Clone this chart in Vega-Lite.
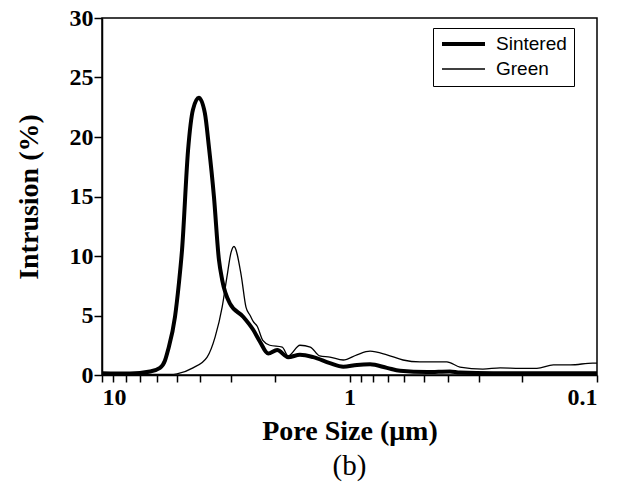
{
  "$schema": "https://vega.github.io/schema/vega-lite/v6.json",
  "width": 495,
  "height": 357,
  "autosize": "none",
  "padding": {"left": 102, "top": 18, "right": 24, "bottom": 118},
  "background": "white",
  "config": {
    "view": {"stroke": "black", "strokeWidth": 1.5},
    "axis": {"grid": false, "domainColor": "black", "domainWidth": 1.5, "tickColor": "black", "tickWidth": 1.5, "labelColor": "black", "titleColor": "black", "labelFont": "Liberation Serif", "labelFontWeight": "bold", "labelFontSize": 24, "titleFont": "Liberation Serif", "titleFontWeight": "bold", "titleFontSize": 28}
  },
  "title": {"text": "(b)", "orient": "bottom", "font": "Liberation Serif", "fontWeight": "normal", "fontSize": 29, "color": "black", "offset": 7, "anchor": "middle"},
  "data": {
    "values": [
      {"series": "Sintered", "size": 10, "intrusion": 0.15},
      {"series": "Sintered", "size": 7.71, "intrusion": 0.12},
      {"series": "Sintered", "size": 6.4, "intrusion": 0.3},
      {"series": "Sintered", "size": 5.83, "intrusion": 0.6},
      {"series": "Sintered", "size": 5.57, "intrusion": 1.2},
      {"series": "Sintered", "size": 5.41, "intrusion": 2.1},
      {"series": "Sintered", "size": 5.07, "intrusion": 4.9},
      {"series": "Sintered", "size": 4.89, "intrusion": 7.7},
      {"series": "Sintered", "size": 4.75, "intrusion": 10.5},
      {"series": "Sintered", "size": 4.49, "intrusion": 18.9},
      {"series": "Sintered", "size": 4.29, "intrusion": 22.3},
      {"series": "Sintered", "size": 4.06, "intrusion": 23.3},
      {"series": "Sintered", "size": 3.84, "intrusion": 22.0},
      {"series": "Sintered", "size": 3.70, "intrusion": 19.2},
      {"series": "Sintered", "size": 3.53, "intrusion": 15.0},
      {"series": "Sintered", "size": 3.37, "intrusion": 9.7},
      {"series": "Sintered", "size": 3.27, "intrusion": 8.0},
      {"series": "Sintered", "size": 3.04, "intrusion": 6.0},
      {"series": "Sintered", "size": 2.69, "intrusion": 4.9},
      {"series": "Sintered", "size": 2.45, "intrusion": 3.8},
      {"series": "Sintered", "size": 2.30, "intrusion": 2.8},
      {"series": "Sintered", "size": 2.13, "intrusion": 1.8},
      {"series": "Sintered", "size": 1.96, "intrusion": 2.1},
      {"series": "Sintered", "size": 1.77, "intrusion": 1.5},
      {"series": "Sintered", "size": 1.585, "intrusion": 1.7},
      {"series": "Sintered", "size": 1.40, "intrusion": 1.5},
      {"series": "Sintered", "size": 1.20, "intrusion": 1.0},
      {"series": "Sintered", "size": 1.06, "intrusion": 0.7},
      {"series": "Sintered", "size": 0.933, "intrusion": 0.85},
      {"series": "Sintered", "size": 0.826, "intrusion": 0.9},
      {"series": "Sintered", "size": 0.706, "intrusion": 0.6},
      {"series": "Sintered", "size": 0.625, "intrusion": 0.35},
      {"series": "Sintered", "size": 0.486, "intrusion": 0.25},
      {"series": "Sintered", "size": 0.393, "intrusion": 0.3},
      {"series": "Sintered", "size": 0.358, "intrusion": 0.2},
      {"series": "Sintered", "size": 0.263, "intrusion": 0.15},
      {"series": "Sintered", "size": 0.1, "intrusion": 0.15},
      {"series": "Green", "size": 10, "intrusion": 0.05},
      {"series": "Green", "size": 5.31, "intrusion": 0.05},
      {"series": "Green", "size": 4.98, "intrusion": 0.1},
      {"series": "Green", "size": 4.29, "intrusion": 0.6},
      {"series": "Green", "size": 3.76, "intrusion": 1.5},
      {"series": "Green", "size": 3.49, "intrusion": 3.2},
      {"series": "Green", "size": 3.27, "intrusion": 5.7},
      {"series": "Green", "size": 3.13, "intrusion": 8.2},
      {"series": "Green", "size": 3.01, "intrusion": 10.3},
      {"series": "Green", "size": 2.93, "intrusion": 10.8},
      {"series": "Green", "size": 2.74, "intrusion": 8.4},
      {"series": "Green", "size": 2.62, "intrusion": 5.7},
      {"series": "Green", "size": 2.52, "intrusion": 5.0},
      {"series": "Green", "size": 2.45, "intrusion": 4.5},
      {"series": "Green", "size": 2.36, "intrusion": 4.1},
      {"series": "Green", "size": 2.24, "intrusion": 2.9},
      {"series": "Green", "size": 2.10, "intrusion": 2.5},
      {"series": "Green", "size": 1.87, "intrusion": 2.35},
      {"series": "Green", "size": 1.77, "intrusion": 1.6},
      {"series": "Green", "size": 1.585, "intrusion": 2.5},
      {"series": "Green", "size": 1.44, "intrusion": 2.35},
      {"series": "Green", "size": 1.32, "intrusion": 1.6},
      {"series": "Green", "size": 1.20, "intrusion": 1.5},
      {"series": "Green", "size": 1.06, "intrusion": 1.26},
      {"series": "Green", "size": 0.933, "intrusion": 1.7},
      {"series": "Green", "size": 0.826, "intrusion": 2.0},
      {"series": "Green", "size": 0.706, "intrusion": 1.7},
      {"series": "Green", "size": 0.608, "intrusion": 1.26},
      {"series": "Green", "size": 0.519, "intrusion": 1.1},
      {"series": "Green", "size": 0.404, "intrusion": 1.1},
      {"series": "Green", "size": 0.358, "intrusion": 0.67},
      {"series": "Green", "size": 0.289, "intrusion": 0.5},
      {"series": "Green", "size": 0.246, "intrusion": 0.6},
      {"series": "Green", "size": 0.205, "intrusion": 0.55},
      {"series": "Green", "size": 0.175, "intrusion": 0.55},
      {"series": "Green", "size": 0.150, "intrusion": 0.85},
      {"series": "Green", "size": 0.128, "intrusion": 0.85},
      {"series": "Green", "size": 0.104, "intrusion": 1.0},
      {"series": "Green", "size": 0.1, "intrusion": 1.0}
    ]
  },
  "mark": {"type": "line", "interpolate": "monotone", "color": "black", "clip": true},
  "encoding": {
    "x": {
      "field": "size", "type": "quantitative",
      "scale": {"type": "log", "domain": [0.1, 10], "reverse": true, "nice": false},
      "axis": {
        "title": "Pore Size (μm)",
        "values": [10, 9, 8, 7, 6, 5, 4, 3, 2, 1, 0.9, 0.8, 0.7, 0.6, 0.5, 0.4, 0.3, 0.2, 0.1],
        "labelExpr": "datum.value == 10 ? '10' : datum.value == 1 ? '1' : datum.value == 0.1 ? '0.1' : ''",
        "labelOverlap": false,
        "tickSize": 7,
        "labelPadding": 3,
        "titlePadding": 8
      }
    },
    "y": {
      "field": "intrusion", "type": "quantitative",
      "scale": {"domain": [0, 30], "nice": false},
      "axis": {"title": "Intrusion (%)", "values": [0, 5, 10, 15, 20, 25, 30], "tickSize": 8, "labelPadding": 1, "titlePadding": 26}
    },
    "detail": {"field": "series"},
    "strokeWidth": {
      "field": "series", "type": "nominal",
      "scale": {"domain": ["Sintered", "Green"], "range": [4, 1.3]},
      "legend": {
        "title": null,
        "orient": "none",
        "legendX": 331,
        "legendY": 10,
        "symbolType": "stroke",
        "symbolStrokeColor": "black",
        "symbolSize": 1849,
        "clipHeight": 18,
        "labelFont": "Liberation Sans",
        "labelFontSize": 19,
        "labelColor": "black",
        "labelOffset": 9,
        "rowPadding": 6,
        "padding": 7,
        "strokeColor": "black",
        "fillColor": "white"
      }
    }
  }
}
